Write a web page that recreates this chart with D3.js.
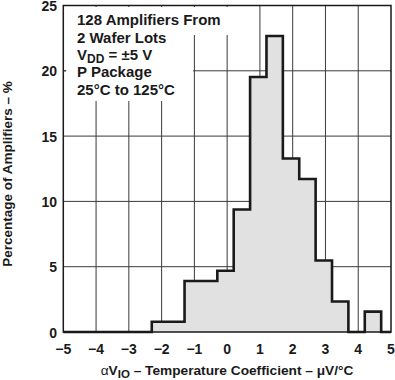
<!DOCTYPE html>
<html><head><meta charset="utf-8">
<script src="https://cdn.jsdelivr.net/npm/d3@7"></script>
<style>
html,body{margin:0;padding:0;background:#fff;}
svg text{font-family:"Liberation Sans",Arial,sans-serif;font-weight:bold;fill:#1a1a1a;}
</style></head>
<body><svg id="c" width="395" height="380"></svg>
<script>
// Bin left edges (µV/°C), bin width 0.5
const binStarts = [-2.3,-1.8,-1.3,-0.8,-0.3,0.2,0.7,1.2,1.7,2.2,2.7,3.2,3.7,4.2];
const binEnd = 4.7;
// Percentage of amplifiers in each bin
const percents = [0.78,0.78,3.91,3.91,4.69,9.38,19.53,22.66,13.28,11.72,5.47,2.34,0,1.56];
const xTicks = [-5,-4,-3,-2,-1,0,1,2,3,4,5];
const yTicks = [0,5,10,15,20,25];
const notes = ["128 Amplifiers From","2 Wafer Lots","VDD","P Package","25°C to 125°C"];

const svg = d3.select("#c");
const x = d3.scaleLinear().domain([-5,5]).range([63.3,391]);
const y = d3.scaleLinear().domain([0,25]).range([332,5.5]);

// gridlines
const g = svg.append("g");
g.selectAll(".vg").data(xTicks.slice(1,-1)).join("line")
  .attr("x1",d=>x(d)).attr("x2",d=>x(d)).attr("y1",y(25)).attr("y2",y(0))
  .attr("stroke","#3a3a3a").attr("stroke-width",1);
g.selectAll(".hg").data(yTicks.slice(1,-1)).join("line")
  .attr("x1",x(-5)).attr("x2",x(5)).attr("y1",d=>y(d)).attr("y2",d=>y(d))
  .attr("stroke","#3a3a3a").attr("stroke-width",1);

// white background behind annotation
svg.append("rect").attr("x",66).attr("y",7).attr("width",165).attr("height",28).attr("fill","#fff");
svg.append("rect").attr("x",66).attr("y",35).attr("width",127).attr("height",66).attr("fill","#fff");
// small tick at 20 left
svg.append("line").attr("x1",x(-5)).attr("x2",x(-5)+3).attr("y1",y(20)).attr("y2",y(20)).attr("stroke","#3a3a3a");

// histogram data
const pts = binStarts.map((s,i)=>[s,percents[i]]);
const areaPts = pts.concat([[binEnd,0]]);
const area = d3.area().curve(d3.curveStepAfter).x(d=>x(d[0])).y0(y(0)).y1(d=>y(d[1]));
svg.append("path").datum(areaPts).attr("d",area).attr("fill","#e1e1e1");

const linePts = [[-5,0]].concat(pts,[[binEnd,0],[5,0]]);
const line = d3.line().curve(d3.curveStepAfter).x(d=>x(d[0])).y(d=>y(d[1]));
svg.append("path").datum(linePts).attr("d",line).attr("fill","none")
  .attr("stroke","#1a1a1a").attr("stroke-width",2.6).attr("stroke-linejoin","miter");

// frame
svg.append("rect").attr("x",x(-5)).attr("y",y(25)).attr("width",x(5)-x(-5)).attr("height",y(0)-y(25))
  .attr("fill","none").attr("stroke","#1a1a1a").attr("stroke-width",1.5);

// axis tick labels
svg.append("g").selectAll("text").data(yTicks).join("text")
  .attr("x",57).attr("y",d=>y(d)+5.5).attr("text-anchor","end").attr("font-size",14)
  .text(d=>d);
svg.append("g").selectAll("text").data(xTicks).join("text")
  .attr("x",d=>x(d)).attr("y",353.5).attr("text-anchor","middle").attr("font-size",14)
  .text(d=>d<0?"\u2212"+Math.abs(d):d);

// annotation
const ann = svg.append("g").attr("font-size",15);
const ly = [25,42.5,60,77,94.5];
notes.forEach((t,i)=>{
  const tx = ann.append("text").attr("x",77).attr("y",ly[i]);
  if(t==="VDD"){
    tx.append("tspan").text("V");
    tx.append("tspan").attr("font-size",12).attr("dy",3).text("DD");
    tx.append("tspan").attr("dy",-3).text(" = \u00b15 V");
  } else tx.text(t);
});

// axis titles
const xt = svg.append("text").attr("x",227).attr("y",375).attr("text-anchor","middle").attr("font-size",13.7);
xt.append("tspan").attr("font-weight","normal").text("\u03b1");
xt.append("tspan").text("V");
xt.append("tspan").attr("font-size",11.5).attr("dy",3).text("IO");
xt.append("tspan").attr("dy",-3).text(" \u2013 Temperature Coefficient \u2013 \u03bcV/\u00b0C");

svg.append("text").attr("transform","translate(12,174) rotate(-90)").attr("text-anchor","middle")
  .attr("font-size",13.5).text("Percentage of Amplifiers \u2013 %");
</script></body></html>
